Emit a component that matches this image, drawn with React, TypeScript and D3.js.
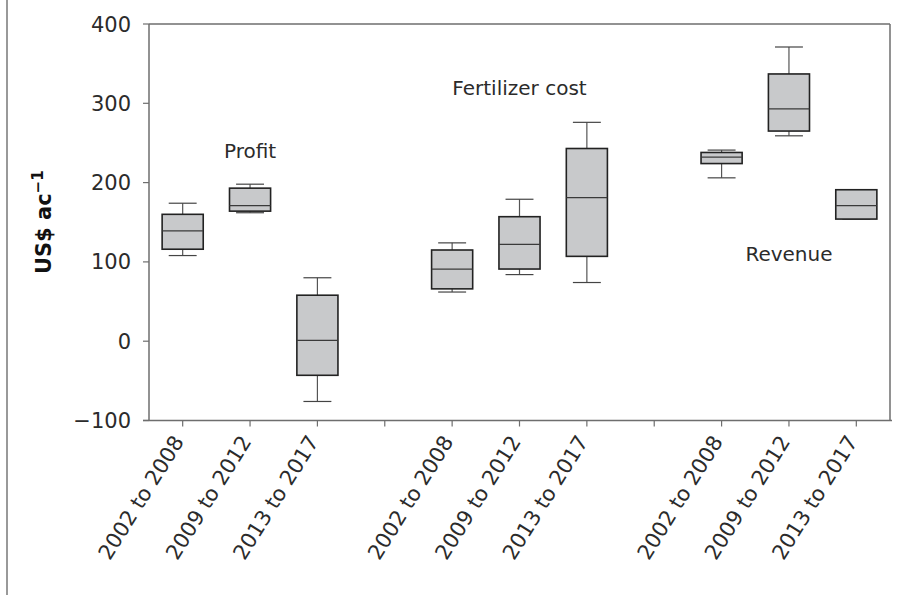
import React from "react";
import * as d3 from "d3";

const groups = ["Profit", "Fertilizer cost", "Revenue"];
const periods = ["2002 to 2008", "2009 to 2012", "2013 to 2017"];

// per group, per period
const whiskerLow = [
  [108, 162, -76],
  [62, 84, 74],
  [206, 259, 154],
];
const q1 = [
  [116, 164, -43],
  [66, 91, 107],
  [224, 265, 154],
];
const median = [
  [139, 171, 1],
  [91, 122, 181],
  [232, 293, 171],
];
const q3 = [
  [160, 193, 58],
  [115, 157, 243],
  [238, 337, 191],
];
const whiskerHigh = [
  [174, 198, 80],
  [124, 179, 276],
  [241, 371, 191],
];

const yTicks = [-100, 0, 100, 200, 300, 400];
// annotation anchor: slot index and value
const labelSlot = [1, 5, 9];
const labelValue = [231, 311, 101];

const W = 916;
const H = 595;
const left = 149;
const right = 890;
const top = 24;
const bottom = 420.5;

export default function App() {
  // 11 slots: 3 groups of 3 with an empty slot between groups
  const slots = d3.range(11).map(String);
  const x = d3
    .scaleBand<string>()
    .domain(slots)
    .range([left, right])
    .paddingInner(0.39)
    .paddingOuter(0.195);
  const y = d3.scaleLinear().domain([-100, 400]).range([bottom, top]);
  const bw = x.bandwidth();
  const cx = (i: number) => (x(String(i)) as number) + bw / 2;

  const boxes: any[] = [];
  groups.forEach((g, gi) => {
    periods.forEach((p, pi) => {
      const slot = gi * 4 + pi;
      boxes.push({
        key: g + p,
        slot,
        period: p,
        lo: whiskerLow[gi][pi],
        q1: q1[gi][pi],
        med: median[gi][pi],
        q3: q3[gi][pi],
        hi: whiskerHigh[gi][pi],
      });
    });
  });

  const font = "'DejaVu Sans', 'Liberation Sans', Arial, sans-serif";
  const axisColor = "#6e6e6e";
  const textColor = "#2b2b2b";
  const capW = bw * 0.68;

  return (
    <svg
      width={W}
      height={H}
      style={{ position: "absolute", left: 0, top: 0, background: "#fff" }}
      fontFamily={font}
    >
      <rect x={0} y={0} width={W} height={H} fill="#fff" />
      {/* left border of figure */}
      <line x1={7} x2={7} y1={0} y2={H} stroke="#999" strokeWidth={2} />

      {/* frame */}
      <line x1={left} x2={right} y1={top} y2={top} stroke={axisColor} strokeWidth={1.5} />
      <line x1={right} x2={right} y1={top} y2={bottom} stroke={axisColor} strokeWidth={1.5} />
      <line x1={left} x2={left} y1={top} y2={bottom} stroke={axisColor} strokeWidth={1.5} />
      <line x1={left - 6} x2={right + 2} y1={bottom} y2={bottom} stroke={axisColor} strokeWidth={1.5} />

      {/* y ticks */}
      {yTicks.map((t) => (
        <g key={t}>
          <line x1={left - 6} x2={left} y1={y(t)} y2={y(t)} stroke={axisColor} strokeWidth={1.2} />
          <text
            x={131}
            y={y(t)}
            dy="0.36em"
            textAnchor="end"
            fontSize={21}
            fill={textColor}
          >
            {t < 0 ? "\u2212" + Math.abs(t) : String(t)}
          </text>
        </g>
      ))}

      {/* x ticks */}
      {slots.map((s, i) => (
        <line
          key={s}
          x1={cx(i)}
          x2={cx(i)}
          y1={bottom}
          y2={bottom + 6}
          stroke={axisColor}
          strokeWidth={1.2}
        />
      ))}

      {/* x tick labels */}
      {boxes.map((b) => (
        <text
          key={"l" + b.key}
          transform={`translate(${cx(b.slot) + 2},${bottom + 21}) rotate(-58)`}
          textAnchor="end"
          fontSize={21}
          fill={textColor}
        >
          {b.period}
        </text>
      ))}

      {/* boxes */}
      {boxes.map((b) => {
        const c = cx(b.slot);
        const x0 = x(String(b.slot)) as number;
        return (
          <g key={b.key}>
            <line x1={c} x2={c} y1={y(b.hi)} y2={y(b.q3)} stroke="#555" strokeWidth={1.2} />
            <line x1={c} x2={c} y1={y(b.q1)} y2={y(b.lo)} stroke="#555" strokeWidth={1.2} />
            <line x1={c - capW / 2} x2={c + capW / 2} y1={y(b.hi)} y2={y(b.hi)} stroke="#444" strokeWidth={1.2} />
            <line x1={c - capW / 2} x2={c + capW / 2} y1={y(b.lo)} y2={y(b.lo)} stroke="#444" strokeWidth={1.2} />
            <rect
              x={x0}
              y={y(b.q3)}
              width={bw}
              height={y(b.q1) - y(b.q3)}
              fill="#c8c9cb"
              stroke="#222"
              strokeWidth={1.6}
            />
            <line x1={x0} x2={x0 + bw} y1={y(b.med)} y2={y(b.med)} stroke="#3a3a3a" strokeWidth={1.3} />
          </g>
        );
      })}

      {/* group annotations */}
      {groups.map((g, gi) => (
        <text
          key={g}
          x={cx(labelSlot[gi])}
          y={y(labelValue[gi])}
          textAnchor="middle"
          fontSize={20}
          fill={textColor}
        >
          {g}
        </text>
      ))}

      {/* y axis title */}
      <text
        transform={`translate(51,${(top + bottom) / 2}) rotate(-90)`}
        textAnchor="middle"
        fontSize={21}
        fontWeight="bold"
        fill="#111"
      >
        US$ ac
        <tspan dy={-8} fontSize={15}>
          {"\u22121"}
        </tspan>
      </text>
    </svg>
  );
}
